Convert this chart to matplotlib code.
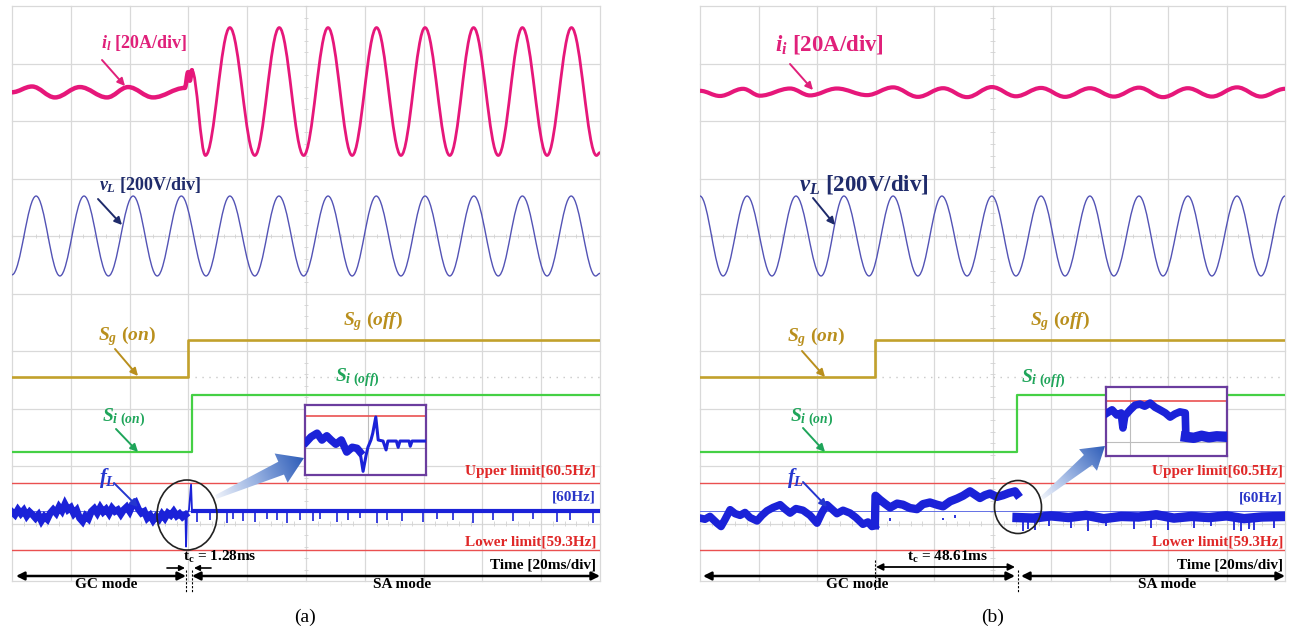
import numpy as np
import matplotlib
matplotlib.use("Agg")
import matplotlib.pyplot as plt
from matplotlib.path import Path
from matplotlib.patches import PathPatch, Ellipse, Polygon
from matplotlib.colors import LinearSegmentedColormap

plt.rcParams['font.family'] = ['Liberation Serif', 'DejaVu Serif']
plt.rcParams['mathtext.fontset'] = 'custom'
plt.rcParams['mathtext.rm'] = 'Liberation Serif:bold'
plt.rcParams['mathtext.it'] = 'Liberation Serif:italic:bold'
plt.rcParams['mathtext.bf'] = 'Liberation Serif:bold'

# ---------------- data (time in ms, 20 ms/div) ----------------
# panel (a): inverter current i_l [A] extrema
ia_t = [0, 6.8, 14.6, 23.1, 32.3, 39.5, 48.0, 58.8, 59.9, 60.5, 61.2, 65.8, 74.1, 82.6, 90.9,
        99.2, 107.5, 115.7, 124.0, 132.3, 140.5, 148.9, 157.0, 165.4, 173.6, 182.0, 190.3, 198.8, 200]
ia_v = [0, 2.0, -1.8, 1.8, -1.8, 1.8, -1.8, 1.5, 7.0, 4.0, 7.7, -22.0, 22.5, -22.0, 22.5,
        -22.0, 22.5, -22.0, 22.5, -22.0, 22.5, -22.0, 22.5, -22.0, 22.5, -22.0, 22.5, -22.0, -21.0]
# panel (a): load voltage v_L [V] extrema
va_t = [0, 8.2, 16.3, 24.5, 32.8, 41.2, 49.4, 57.6, 66.0, 74.1, 82.6, 90.8, 99.2, 107.5, 115.7,
        123.9, 132.3, 140.5, 148.9, 157.1, 165.4, 173.6, 182.0, 190.2, 198.5, 200]
va_v = [-135, 139, -139, 139, -139, 139, -139, 139, -139, 139, -139, 139, -139, 139, -139,
        139, -139, 139, -139, 139, -139, 139, -139, 139, -139, -130]
# panel (a): switch signals [V]
sg_a_t = [0, 59.9, 59.9, 200]
sg_a_v = [0, 0, 3.2, 3.2]
si_a_t = [0, 61.2, 61.2, 200]
si_a_v = [0, 0, 5.0, 5.0]
# panel (a): frequency f_L [Hz]
fa_pre_t = list(range(0, 60))
fa_pre_f = [59.98, 59.93, 60.02, 59.95, 60.01, 59.91, 59.98, 59.93, 59.87, 59.93, 59.82, 59.90,
            59.85, 59.96, 60.02, 59.96, 60.07, 60.00, 60.12, 60.02, 60.06, 59.95, 60.01, 59.87,
            59.81, 59.91, 59.86, 59.99, 60.04, 59.96, 60.06, 59.98, 60.03, 59.95, 60.05, 59.99,
            60.02, 59.94, 60.02, 60.07, 59.99, 60.11, 60.15, 60.03, 59.96, 59.99, 59.87, 59.92,
            59.83, 59.90, 59.85, 59.94, 59.87, 59.96, 59.92, 59.99, 59.91, 59.95, 59.89, 59.93]
fa_tr_t = [59.0, 59.2, 59.5, 60.2, 60.9, 61.2, 61.6]
fa_tr_f = [59.92, 59.36, 59.95, 60.02, 60.47, 60.03, 60.00]
fa_post_t = [61.6, 200]
fa_post_f = [60.0, 60.0]
fa_spk_t = [62.9, 67.3, 73.1, 75.2, 78.6, 82.7, 86.7, 90.1, 93.5, 98.0, 102.4, 104.8, 110.5, 114.3,
            118.4, 124.1, 127.6, 132.7, 139.8, 144.6, 150.0, 156.8, 163.6, 170.4, 177.2, 185.4,
            189.8, 197.6]
fa_spk_f = [59.80, 59.84, 59.78, 59.86, 59.82, 59.80, 59.85, 59.83, 59.79, 59.84, 59.81, 59.86,
            59.80, 59.83, 59.87, 59.79, 59.84, 59.82, 59.80, 59.85, 59.83, 59.78, 59.84, 59.81,
            59.86, 59.80, 59.83, 59.79]
# inset (a): zoomed f_L around the transition
ina_t = [0.2, 1.0, 2.0, 2.8, 3.6, 4.3, 5.1, 6.0, 6.9, 7.8, 8.6, 9.1]
ina_f = [60.00, 60.10, 60.17, 60.04, 60.12, 60.04, 59.96, 60.04, 59.81, 59.90, 59.88, 59.81]
ina2_t = [9.1, 9.6, 10.1, 10.4, 10.9, 11.2, 11.7, 12.1, 12.9, 13.4, 13.7, 15.1, 15.4, 15.7, 17.2,
          17.4, 17.7, 19.9]
ina2_f = [59.81, 59.44, 59.75, 59.90, 60.04, 60.17, 60.48, 60.04, 60.02, 59.85, 60.02, 60.02,
          59.90, 60.02, 60.02, 59.92, 60.02, 60.02]

# panel (b)
ib_t = [0, 6.8, 14.7, 20.5, 30.8, 37.6, 46.8, 57.1, 66.0, 74.5, 83.1, 91.3, 99.8, 108.0, 116.6,
        124.8, 133.3, 141.5, 150.1, 158.3, 166.8, 175.0, 183.6, 191.8, 200]
ib_v = [0.5, -1.3, 1.2, -1.2, 1.3, -1.1, 1.3, -1.0, 1.7, -1.6, 1.4, -1.7, 1.8, -1.4, 1.5,
        -1.6, 1.4, -1.5, 1.6, -1.7, 1.4, -1.5, 1.7, -1.5, 1.2]
vb_t = [0, 7.9, 16.1, 24.6, 32.8, 41.4, 49.2, 57.8, 66.0, 74.5, 82.7, 91.3, 99.8, 108.0, 116.6,
        124.8, 133.3, 141.5, 150.1, 158.3, 166.8, 175.0, 183.6, 191.8, 200]
vb_v = [139, -139, 139, -139, 139, -139, 139, -139, 139, -139, 139, -139, 139, -139, 139,
        -139, 139, -139, 139, -139, 139, -139, 139, -139, 139]
sg_b_t = [0, 59.8, 59.8, 200]
sg_b_v = [0, 0, 3.2, 3.2]
si_b_t = [0, 108.4, 108.4, 200]
si_b_v = [0, 0, 5.0, 5.0]
fb_pre_t = [0, 1.7, 3.4, 5.8, 7.2, 8.5, 10.3, 12.0, 13.7, 15.4, 17.1, 19.5, 21.2, 22.9, 25.0, 27.4,
            29.1, 30.8, 32.8, 35.2, 37.6, 40.0, 41.7, 43.4, 45.1, 46.8, 48.9, 51.3, 53.3, 55.7,
            57.4, 58.8, 59.8]
fb_pre_f = [59.87, 59.85, 59.90, 59.78, 59.72, 59.84, 60.02, 59.95, 59.92, 59.97, 59.88, 59.82,
            59.92, 60.00, 60.06, 60.11, 60.03, 59.96, 60.04, 60.01, 59.92, 59.78, 59.97, 60.11,
            60.03, 59.95, 60.01, 59.96, 59.88, 59.76, 59.80, 59.72, 59.74]
fb_mid_t = [59.8, 60.0, 61.5, 63.2, 65.0, 67.4, 69.4, 71.8, 74.2, 76.2, 78.6, 81.0, 83.1, 85.5,
            87.9, 89.9, 92.3, 94.0, 95.7, 97.4, 99.1, 101.5, 103.6, 105.6, 107.7, 108.4]
fb_mid_f = [59.74, 60.27, 60.20, 60.13, 60.06, 60.13, 60.11, 60.05, 60.03, 60.12, 60.15, 60.11,
            60.08, 60.17, 60.22, 60.27, 60.35, 60.29, 60.23, 60.28, 60.31, 60.25, 60.28, 60.32,
            60.35, 60.30]
fb_post_t = [108.4, 114, 120, 126, 132, 138, 144, 150, 156, 162, 168, 174, 180, 186, 192, 200]
fb_post_f = [59.88, 59.87, 59.91, 59.88, 59.92, 59.86, 59.90, 59.89, 59.93, 59.87, 59.90, 59.88,
             59.91, 59.86, 59.89, 59.90]
fb_spk_t = [65.1, 83.2, 87.3, 110.3, 112.3, 114.7, 119.2, 126.7, 132.5, 138.7, 148.3, 154.1,
            159.9, 168.8, 174.7, 182.5, 184.9, 187.7, 189.4, 196.2]
fb_spk_f = [59.82, 59.84, 59.92, 59.64, 59.68, 59.66, 59.72, 59.70, 59.64, 59.72, 59.68, 59.70,
            59.66, 59.70, 59.72, 59.66, 59.64, 59.68, 59.65, 59.70]
inb_t = [0.2, 1.0, 1.8, 2.5, 2.8, 3.1, 4.0, 4.8, 5.6, 6.4, 7.3, 8.1, 8.9, 9.8, 10.6, 11.4, 12.2,
         13.1, 13.2]
inb_f = [60.27, 60.33, 60.23, 60.27, 59.98, 60.21, 60.33, 60.42, 60.44, 60.40, 60.46, 60.38,
         60.33, 60.27, 60.19, 60.25, 60.29, 60.27, 59.81]
inb2_t = [13.2, 14.5, 15.8, 17.0, 18.3, 19.9]
inb2_f = [59.81, 59.79, 59.83, 59.80, 59.82, 59.81]

# channel display settings: (offset in div, units per div)
CH_I = (8.5, 20.0)
CH_V = (6.0, 200.0)
CH_SG = (3.55, 5.0)
CH_SI = (2.24, 5.0)
CH_F = (1.22, 1.03)
F_NOM = 60.0

C_I = '#e6177a'
C_V = '#5353b5'
C_SG = '#c2a12c'
C_SI = '#45d045'
C_F = '#1b22d8'
C_RED = '#ea5050'
C_GRID = '#d9d9d9'


def dv(vals, ch):
    return ch[0] + np.asarray(vals, dtype=float) / ch[1]


def df(vals):
    return CH_F[0] + (np.asarray(vals, dtype=float) - F_NOM) / CH_F[1]


def smooth(ax, t, y, **kw):
    verts = [(t[0], y[0])]
    codes = [Path.MOVETO]
    for i in range(len(t) - 1):
        d = t[i + 1] - t[i]
        verts += [(t[i] + 0.363 * d, y[i]), (t[i + 1] - 0.363 * d, y[i + 1]), (t[i + 1], y[i + 1])]
        codes += [Path.CURVE4] * 3
    ax.add_patch(PathPatch(Path(verts, codes), fill=False, capstyle='round', joinstyle='round', **kw))


W, H = 1290, 634
fig = plt.figure(figsize=(W / 100, H / 100), dpi=100, facecolor='white')


def px_axes(x0, y0, x1, y1, z):
    return fig.add_axes([x0 / W, 1 - y1 / H, (x1 - x0) / W, (y1 - y0) / H], zorder=z)


def scope(ax):
    ax.set_xlim(0, 200)
    ax.set_ylim(0, 10)
    ax.axis('off')
    for k in range(11):
        ax.axvline(20 * k, color=C_GRID, lw=0.9, zorder=0, clip_on=False)
        ax.axhline(k, color=C_GRID, lw=0.9, zorder=0, clip_on=False)
    ax.hlines(np.arange(0, 10.01, 0.2), 99.3, 100.7, color='#d2d2d2', lw=0.6, zorder=0)
    for yy in (6, 1):
        ax.vlines(np.arange(0, 200.1, 4), yy - 0.035, yy + 0.035, color='#d2d2d2', lw=0.6, zorder=0)
    # frequency limits & 60 Hz reference
    ax.axhline(df(60.5), color=C_RED, lw=1.0, zorder=1)
    ax.axhline(df(59.3), color=C_RED, lw=1.0, zorder=1)
    ax.axhline(df(60.0), color='#4a5ae0', lw=0.6, zorder=1)


axa = px_axes(12, 6, 600, 581, 1)
axb = px_axes(700, 6, 1285, 581, 1)
scope(axa)
scope(axb)

# ---- panel (a) traces
smooth(axa, ia_t[:11], dv(ia_v[:11], CH_I), color=C_I, lw=3.2, zorder=3)
smooth(axa, ia_t[10:], dv(ia_v[10:], CH_I), color=C_I, lw=2.0, zorder=3)
smooth(axa, va_t, dv(va_v, CH_V), color=C_V, lw=1.0, zorder=3)
axa.plot(sg_a_t, dv(sg_a_v, CH_SG), color=C_SG, lw=1.9, zorder=3)
axa.plot([sg_a_t[1], 200], dv([0, 0], CH_SG), color='#c8c8c8', lw=1.0, ls=(0, (1, 4)), zorder=2)
axa.plot(si_a_t, dv(si_a_v, CH_SI), color=C_SI, lw=1.6, zorder=3)
axa.plot(fa_pre_t, df(fa_pre_f), color=C_F, lw=5.0, zorder=3, solid_joinstyle='miter')
axa.plot(fa_tr_t, df(fa_tr_f), color=C_F, lw=1.3, zorder=3)
axa.plot(fa_post_t, df(fa_post_f), color=C_F, lw=3.0, zorder=3)
axa.vlines(fa_spk_t, df(60.0), df(fa_spk_f), color=C_F, lw=1.2, zorder=3)

# ---- panel (b) traces
smooth(axb, ib_t, dv(ib_v, CH_I), color=C_I, lw=3.0, zorder=3)
smooth(axb, vb_t, dv(vb_v, CH_V), color=C_V, lw=1.0, zorder=3)
axb.plot(sg_b_t, dv(sg_b_v, CH_SG), color=C_SG, lw=1.9, zorder=3)
axb.plot([sg_b_t[1], 200], dv([0, 0], CH_SG), color='#c8c8c8', lw=1.0, ls=(0, (1, 4)), zorder=2)
axb.plot(si_b_t, dv(si_b_v, CH_SI), color=C_SI, lw=1.6, zorder=3)
axb.plot(fb_pre_t, df(fb_pre_f), color=C_F, lw=5.5, zorder=3)
axb.plot(fb_mid_t, df(fb_mid_f), color=C_F, lw=6.0, zorder=3)
axb.plot(fb_post_t, df(fb_post_f), color=C_F, lw=6.8, zorder=3)
axb.vlines(fb_spk_t, df(59.88), df(fb_spk_f), color=C_F, lw=1.3, zorder=3)


# ---- insets
def inset(x0, y0, x1, y1, ylo, yhi, gx, gy):
    ax = px_axes(x0, y0, x1, y1, 2)
    ax.set_xlim(0, 20)
    ax.set_ylim(ylo, yhi)
    ax.set_xticks([])
    ax.set_yticks([])
    ax.set_facecolor('white')
    for s in ax.spines.values():
        s.set_color('#6b3d9e')
        s.set_linewidth(1.6)
    ax.axvline(gx, color='#bdbdbd', lw=0.8, zorder=0)
    ax.axhline(gy, color='#bdbdbd', lw=0.8, zorder=0)
    ax.axhline(60.5, color=C_RED, lw=1.2, zorder=1)
    return ax


ina = inset(305, 405, 426, 475, 59.37, 60.71, 10.4, 59.88)
ina.plot(ina_t, ina_f, color=C_F, lw=5.5, zorder=3)
ina.plot(ina2_t, ina2_f, color=C_F, lw=2.2, zorder=3)
inb = inset(1106, 387, 1227, 456, 59.44, 60.77, 4.0, 59.71)
inb.plot(inb_t, inb_f, color=C_F, lw=5.5, zorder=3)
inb.plot(inb2_t, inb2_f, color=C_F, lw=7.5, zorder=3)

# ---- overlay for annotations (pixel coordinates, y downward)
ov = fig.add_axes([0, 0, 1, 1], zorder=5)
ov.patch.set_alpha(0)
ov.axis('off')

SER = 'Liberation Serif'


def txt(x, y, s, size, color='black', ha='center', weight='bold', style='normal'):
    ov.text(x, y, s, fontsize=size, color=color, ha=ha, va='center', fontweight=weight,
            fontstyle=style, fontfamily=SER)


def arr(x0, y0, x1, y1, color, lw=1.4, ms=11, style='-|>'):
    ov.annotate('', xy=(x1, y1), xytext=(x0, y0), xycoords='data',
                arrowprops=dict(arrowstyle=style, color=color, lw=lw, mutation_scale=ms,
                                shrinkA=0, shrinkB=0))


cmap = LinearSegmentedColormap.from_list('arr', ['#eef2fa', '#8eaade', '#2d5cb8'])


def grad_arrow(tail, tip, w_tail, w_neck, w_head, head_len):
    tail = np.array(tail, float)
    tip = np.array(tip, float)
    d = tip - tail
    L = np.hypot(*d)
    u = d / L
    n = np.array([-u[1], u[0]])
    neck = tip - u * head_len
    pts = [tail + n * w_tail / 2, neck + n * w_neck / 2, neck + n * w_head / 2, tip,
           neck - n * w_head / 2, neck - n * w_neck / 2, tail - n * w_tail / 2]
    pts = np.array(pts)
    poly = Polygon(pts, closed=True, facecolor='none', edgecolor='none')
    ov.add_patch(poly)
    x0, y0 = pts.min(axis=0) - 2
    x1, y1 = pts.max(axis=0) + 2
    X, Y = np.meshgrid(np.linspace(x0, x1, 120), np.linspace(y0, y1, 120))
    s = np.clip(((X - tail[0]) * u[0] + (Y - tail[1]) * u[1]) / L, 0, 1)
    im = ov.imshow(s, extent=(x0, x1, y1, y0), origin='upper', cmap=cmap, aspect='auto',
                   interpolation='bilinear', zorder=4)
    im.set_clip_path(poly)


grad_arrow((216, 497), (304, 458), 4, 14, 32, 25)
grad_arrow((1042, 498), (1105, 446), 4, 13, 28, 22)

ov.add_patch(Ellipse((187, 515), 60, 70, fill=False, edgecolor='#222222', lw=1.2, zorder=6))
ov.add_patch(Ellipse((1018, 507), 47, 53, fill=False, edgecolor='#222222', lw=1.2, zorder=6))

# labels panel (a)
txt(144, 43, r'$i_l$ [20A/div]', 13, '#e0207a')
arr(102, 60, 125, 86, '#e0207a')
txt(150, 185, r'$v_L$ [200V/div]', 13, '#1f2b6b')
arr(98, 199, 122, 225, '#1f2b6b')
txt(127, 336, r'$S_g\ (on)$', 14, '#b98f1d')
arr(115, 349, 138, 376, '#b98f1d')
txt(373, 321, r'$S_g\ (off)$', 14, '#b98f1d')
txt(124, 418, r'$S_{i\ (on)}$', 14, '#1fa55a')
arr(116, 429, 138, 452, '#1fa55a')
txt(357, 378, r'$S_{i\ (off)}$', 14, '#1fa55a')
txt(108, 478, r'$f_L$', 15, '#2436cf')
arr(114, 483, 138, 507, '#2436cf')
txt(596, 471, 'Upper limit[60.5Hz]', 11, '#e02828', ha='right')
txt(596, 497, '[60Hz]', 11, '#2a36c8', ha='right')
txt(596, 542, 'Lower limit[59.3Hz]', 11, '#e02828', ha='right')
txt(596, 565, 'Time [20ms/div]', 11, 'black', ha='right')
txt(220, 557, r'$\mathrm{t_c}$ = 1.28ms', 11)
arr(167, 568, 185, 568, 'black', lw=1.2, ms=8)
arr(211, 568, 194, 568, 'black', lw=1.2, ms=8)
arr(16, 576, 186, 576, 'black', lw=1.8, ms=12, style='<|-|>')
arr(192, 576, 600, 576, 'black', lw=1.8, ms=12, style='<|-|>')
for xm in (186, 192):
    ov.plot([xm, xm], [570, 592], color='black', lw=0.8, ls=(0, (2, 1.5)))
txt(106, 585, 'GC mode', 11)
txt(402, 584, 'SA mode', 11)
txt(305, 617, '(a)', 14, weight='normal')

# labels panel (b)
txt(829, 45, r'$i_i$ [20A/div]', 16.5, '#e0207a')
arr(790, 64, 813, 90, '#e0207a')
txt(864, 185, r'$v_L$ [200V/div]', 16.5, '#1f2b6b')
arr(813, 198, 835, 225, '#1f2b6b')
txt(816, 337, r'$S_g\ (on)$', 14, '#b98f1d')
arr(802, 351, 825, 377, '#b98f1d')
txt(1060, 321, r'$S_g\ (off)$', 14, '#b98f1d')
txt(812, 418, r'$S_{i\ (on)}$', 14, '#1fa55a')
arr(803, 428, 825, 452, '#1fa55a')
txt(1043, 379, r'$S_{i\ (off)}$', 14, '#1fa55a')
txt(796, 478, r'$f_L$', 15, '#2436cf')
arr(803, 482, 827, 507, '#2436cf')
txt(1283, 472, 'Upper limit[60.5Hz]', 11, '#e02828', ha='right')
txt(1283, 498, '[60Hz]', 11, '#2a36c8', ha='right')
txt(1283, 542, 'Lower limit[59.3Hz]', 11, '#e02828', ha='right')
txt(1283, 565, 'Time [20ms/div]', 11, 'black', ha='right')
txt(948, 557, r'$\mathrm{t_c}$ = 48.61ms', 11)
arr(876, 567, 1015, 567, 'black', lw=1.3, ms=10, style='<|-|>')
arr(703, 576, 1015, 576, 'black', lw=1.8, ms=12, style='<|-|>')
arr(1021, 576, 1285, 576, 'black', lw=1.8, ms=12, style='<|-|>')
ov.plot([875, 875], [560, 590], color='black', lw=0.8, ls=(0, (2, 1.5)))
ov.plot([1018, 1018], [570, 592], color='black', lw=0.8, ls=(0, (2, 1.5)))
txt(857, 585, 'GC mode', 11)
txt(1167, 585, 'SA mode', 11)
txt(993, 617, '(b)', 14, weight='normal')

ov.set_xlim(0, W)
ov.set_ylim(H, 0)

fig.savefig('out.png', dpi=100, facecolor='white')
